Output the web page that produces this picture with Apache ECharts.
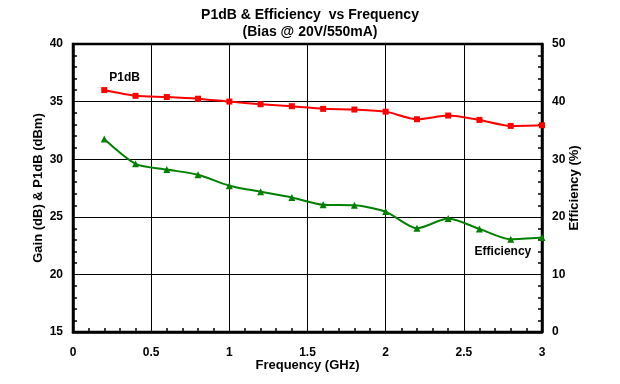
<!DOCTYPE html>
<html><head><meta charset="utf-8">
<script src="https://cdn.jsdelivr.net/npm/echarts@6/dist/echarts.min.js"></script>
<style>html,body{margin:0;padding:0;background:#fff}#c{width:620px;height:384px}</style>
</head><body><div id="c"></div>
<script>
const freq = [0.2,0.4,0.6,0.8,1.0,1.2,1.4,1.6,1.8,2.0,2.2,2.4,2.6,2.8,3.0];
const p1db = [36.0,35.5,35.4,35.25,35.0,34.77,34.6,34.37,34.31,34.13,33.47,33.79,33.41,32.89,32.95];
const efficiency = [33.5,29.2,28.2,27.3,25.4,24.35,23.35,22.1,22.0,20.9,18.0,19.7,17.9,16.1,16.4];
const xTicks = [0,0.5,1,1.5,2,2.5,3];
const leftTicks = [15,20,25,30,35,40];
const rightTicks = [0,10,20,30,40,50];

const font = '"Liberation Sans", Arial, sans-serif';
const chart = echarts.init(document.getElementById('c'));
const lbl = {color:'#000', fontFamily:font, fontWeight:'bold', fontSize:12};
const mpLabel = (t)=>({symbol:'rect', symbolSize:1, itemStyle:{color:'rgba(0,0,0,0)'},
  label:{show:true, position:'inside', formatter:t, ...lbl}});
chart.setOption({
  animation:false,
  title:{text:'P1dB & Efficiency  vs Frequency', subtext:'(Bias @ 20V/550mA)', left:'center', top:3, itemGap:3,
    textStyle:{fontFamily:font, fontWeight:'bold', fontSize:14, color:'#000'},
    subtextStyle:{fontFamily:font, fontWeight:'bold', fontSize:14, color:'#000'}},
  grid:{left:73, right:78, top:44, bottom:52, show:true, borderColor:'#000', borderWidth:2.5, backgroundColor:'transparent'},
  xAxis:{type:'value', min:xTicks[0], max:xTicks[xTicks.length-1], interval:0.5,
    name:'Frequency (GHz)', nameLocation:'middle', nameGap:27, nameMoveOverlap:false,
    nameTextStyle:{...lbl, fontSize:13},
    axisLine:{show:true, lineStyle:{color:'#000', width:2.5}},
    axisTick:{show:true, inside:true, length:4, lineStyle:{color:'#000'}},
    minorTick:{show:true, splitNumber:5, length:4, lineStyle:{color:'#000', width:1.5}},
    axisLabel:{...lbl, margin:15, formatter:v=>String(v)},
    splitLine:{show:true, lineStyle:{color:'#000', width:1}}},
  yAxis:[
    {type:'value', min:leftTicks[0], max:leftTicks[leftTicks.length-1], interval:5,
     name:'Gain (dB) & P1dB (dBm)', nameLocation:'middle', nameGap:28, nameMoveOverlap:false, nameTextStyle:{...lbl, fontSize:13},
     axisLine:{show:true, lineStyle:{color:'#000', width:2.5}},
     axisTick:{show:true, inside:true, length:4, lineStyle:{color:'#000'}},
     minorTick:{show:true, splitNumber:5, length:4, lineStyle:{color:'#000', width:1.5}},
     axisLabel:{...lbl, margin:10},
     splitLine:{show:true, lineStyle:{color:'#000', width:1}}},
    {type:'value', min:rightTicks[0], max:rightTicks[rightTicks.length-1], interval:10, position:'right',
     name:'Efficiency (%)', nameLocation:'middle', nameGap:26, nameRotate:90, nameMoveOverlap:false, nameTextStyle:{...lbl, fontSize:13},
     axisLine:{show:true, lineStyle:{color:'#000', width:2.5}},
     axisTick:{show:true, inside:true, length:4, lineStyle:{color:'#000'}},
     minorTick:{show:true, splitNumber:5, length:4, lineStyle:{color:'#000', width:1.5}},
     axisLabel:{...lbl, margin:10},
     splitLine:{show:false}}
  ],
  series:[
    {name:'P1dB', type:'line', yAxisIndex:0, smooth:0.25, data:freq.map((f,i)=>[f,p1db[i]]),
     symbol:'rect', symbolSize:6, itemStyle:{color:'#ff0000'}, lineStyle:{color:'#ff0000', width:2},
     markPoint:{...mpLabel('P1dB'), data:[{coord:[0.33,37.1]}]}},
    {name:'Efficiency', type:'line', yAxisIndex:1, smooth:0.25, data:freq.map((f,i)=>[f,efficiency[i]]),
     symbol:'triangle', symbolSize:7, itemStyle:{color:'#008000'}, lineStyle:{color:'#008000', width:2},
     markPoint:{...mpLabel('Efficiency'), data:[{coord:[2.75,14.0]}]}}
  ]
});
</script></body></html>
